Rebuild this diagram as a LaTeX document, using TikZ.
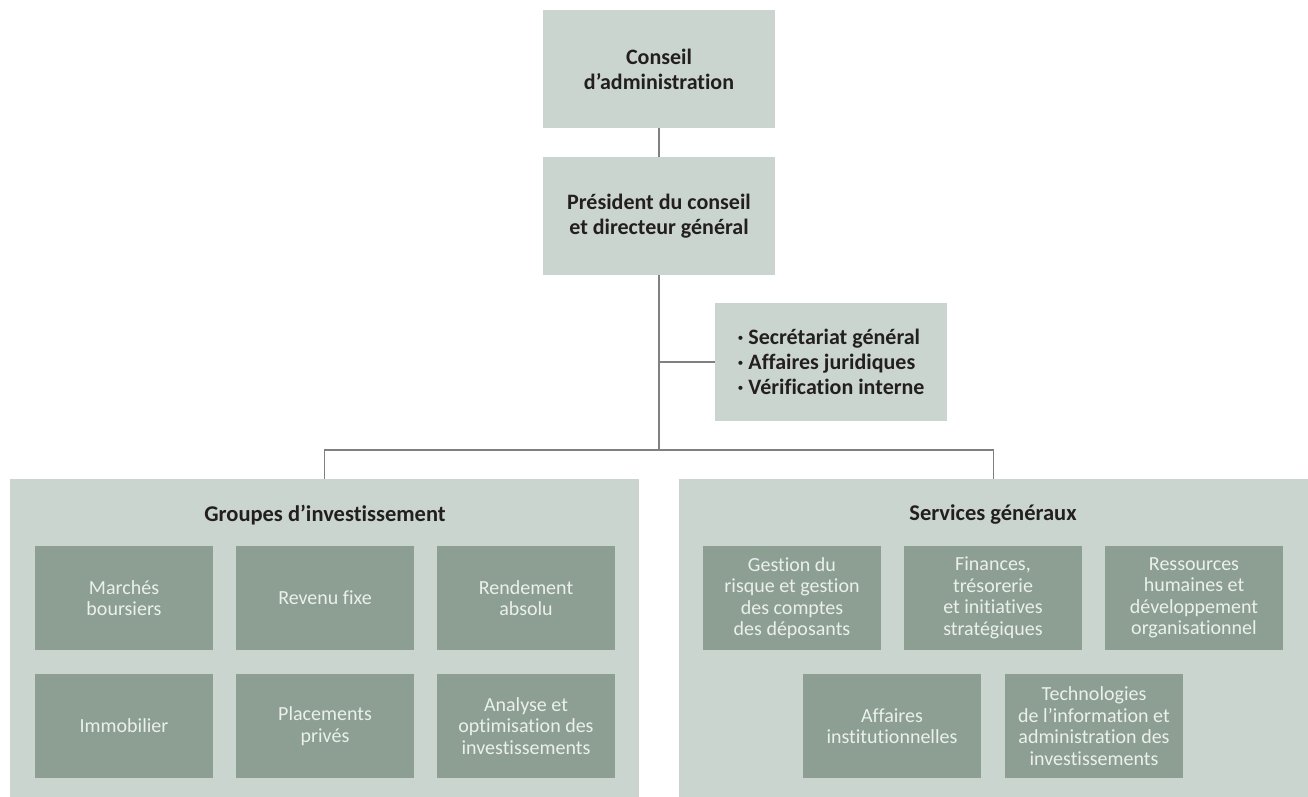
\documentclass[tikz,border=0pt]{standalone}
\usepackage{fontspec}
\setmainfont{Carlito}[Ligatures=NoCommon]
\usepackage{tikz}
\definecolor{boxlight}{HTML}{CBD5CF}
\definecolor{boxdark}{HTML}{8C9F92}
\definecolor{linegray}{HTML}{808080}
\definecolor{textdark}{HTML}{231F20}
\definecolor{textlight}{HTML}{EBF0EC}

\begin{document}
\begin{tikzpicture}[x=1pt,y=-1pt,
  topbox/.style={fill=boxlight,minimum width=232pt,minimum height=118pt,inner sep=0pt,align=center,text=textdark,font=\fontsize{22}{25}\selectfont\bfseries},
  groupbox/.style={fill=boxlight,minimum width=629pt,minimum height=318pt,inner sep=0pt},
  grouptitle/.style={text=textdark,font=\fontsize{22.5}{25}\selectfont\bfseries},
  unitbox/.style={fill=boxdark,minimum width=178pt,minimum height=104pt,inner sep=0pt,align=center,text=textlight,font=\fontsize{20}{21.5}\selectfont},
  link/.style={draw=linegray,line width=1.5pt}]
\useasboundingbox (0,0) rectangle (1308,797);

% Top of the chart
\node[topbox] (conseil) at (659,69) {Conseil\\d’administration};
\node[topbox] (pdg) at (659,216) {Président du conseil\\et directeur général};
\node[topbox,align=left] (secgen) at (831,362) {· Secrétariat général\\· Affaires juridiques\\· Vérification interne};

% Investment groups
\node[groupbox] (invest) at (324.5,638) {};
\node[grouptitle] (investtitle) at (325,515) {Groupes d’investissement};
\node[unitbox] (boursiers) at (124,598) {Marchés\\boursiers};
\node[unitbox] (revenu) at (325,598) {Revenu fixe};
\node[unitbox] (rendement) at (526,598) {Rendement\\absolu};
\node[unitbox] (immobilier) at (124,726) {Immobilier};
\node[unitbox] (prives) at (325,726) {Placements\\privés};
\node[unitbox] (analyse) at (526,726) {Analyse et\\optimisation des\\investissements};

% Corporate services
\node[groupbox] (services) at (993.5,638) {};
\node[grouptitle] (servicestitle) at (993,515) {Services généraux};
\node[unitbox] (risque) at (792,598) {Gestion du\\risque et gestion\\des comptes\\des déposants};
\node[unitbox] (finances) at (993,598) {Finances,\\trésorerie\\et initiatives\\stratégiques};
\node[unitbox] (rh) at (1194,598) {Ressources\\humaines et\\développement\\organisationnel};
\node[unitbox] (institution) at (892,726) {Affaires\\institutionnelles};
\node[unitbox] (techno) at (1094,726) {Technologies\\de l’information et\\administration des\\investissements};

% Connectors
\coordinate (tap) at (659,362);
\coordinate (split) at (659,450);
\draw[link] (conseil) -- (pdg);
\draw[link] (pdg) -- (split);
\draw[link] (tap) -- (secgen);
\draw[link] (invest.north) |- (split) -| (services.north);
\end{tikzpicture}
\end{document}
